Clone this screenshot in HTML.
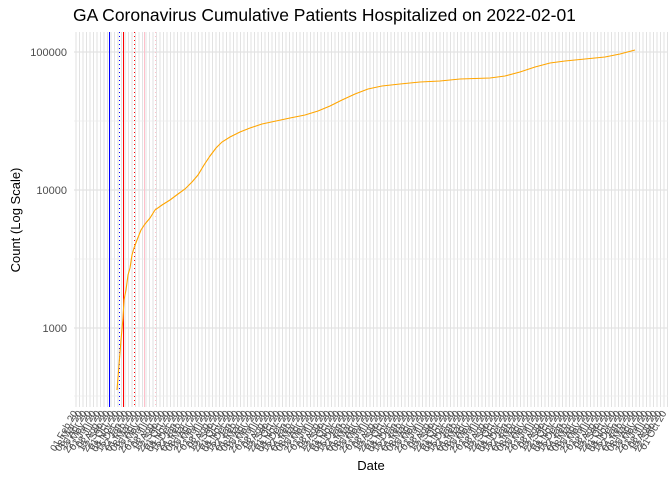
<!DOCTYPE html>
<html><head><meta charset="utf-8"><style>body{margin:0;background:#fff}svg{display:block}</style></head><body>
<svg width="672" height="480" xmlns="http://www.w3.org/2000/svg" font-family="Liberation Sans, sans-serif">
<rect width="672" height="480" fill="#fff"/>
<g id="vg" stroke="#e2e2e2" stroke-width="1"></g>
<g stroke="#ebebeb" stroke-width="0.8">
<line x1="74" x2="668" y1="121" y2="121"/><line x1="74" x2="668" y1="259" y2="259"/><line x1="74" x2="668" y1="396" y2="396"/>
</g>
<g stroke="#e3e3e3" stroke-width="1.2">
<line x1="74" x2="668" y1="52" y2="52"/><line x1="74" x2="668" y1="190" y2="190"/><line x1="74" x2="668" y1="328" y2="328"/>
</g>
<line x1="109.5" x2="109.5" y1="32" y2="407" stroke="#0000ff" stroke-width="1"/>
<line x1="119.5" x2="119.5" y1="32" y2="407" stroke="#0000ff" stroke-width="1" stroke-dasharray="1,3"/>
<line x1="123.5" x2="123.5" y1="32" y2="407" stroke="#ff0000" stroke-width="1"/>
<line x1="134.5" x2="134.5" y1="32" y2="407" stroke="#ff0000" stroke-width="1" stroke-dasharray="1,3"/>
<line x1="144.5" x2="144.5" y1="32" y2="407" stroke="#ffc0cb" stroke-width="1"/>
<line x1="155.5" x2="155.5" y1="32" y2="407" stroke="#ffc0cb" stroke-width="1" stroke-dasharray="1,3"/>
<polyline fill="none" stroke="#ffa500" stroke-width="1.1" points="117,390 119,365 121,340 123,318 124,300 126,290 128,275 130,268 132,255 134,248 137,240 141,230 145,224 150,218 155,210 162,205 170,200 178,194 185,189 192,182 198,175 204,165 210,156 216,148 222,142 230,137 240,132 250,128 262,124 276,121 290,118 305,115 318,111 330,106 342,100 355,94 368,89 382,86 400,84 420,82 440,81 460,79 490,78 505,76 520,72 535,67 550,63 565,61 585,59 605,57 620,54 635,50"/>
<g font-size="11" fill="#4d4d4d" text-anchor="end">
<text x="67" y="56">100000</text><text x="67" y="194">10000</text><text x="67" y="332">1000</text>
</g>
<g id="xl" font-size="10" fill="#4d4d4d" text-anchor="end"></g>
<text x="73" y="21" font-size="17.5" fill="#000">GA Coronavirus Cumulative Patients Hospitalized on 2022-02-01</text>
<text x="371" y="470" font-size="13" fill="#000" text-anchor="middle">Date</text>
<text transform="translate(20,220) rotate(-90)" font-size="13" fill="#000" text-anchor="middle">Count (Log Scale)</text>
<script>
var g=document.getElementById('vg'),xl=document.getElementById('xl'),ns='http://www.w3.org/2000/svg';
var months=['Jan','Feb','Mar','Apr','May','Jun','Jul','Aug','Sep','Oct','Nov','Dec'];
for(var x=76,i=0;x<668;x+=3.5,i++){var l=document.createElementNS(ns,'line');l.setAttribute('x1',x);l.setAttribute('x2',x);l.setAttribute('y1',32);l.setAttribute('y2',407);g.appendChild(l);}
for(var x=78,i=0;x<668;x+=4.6,i++){var t=document.createElementNS(ns,'text');t.setAttribute('transform','translate('+x+',413) rotate(-60)');t.textContent=('0'+(1+(i*7)%28)).slice(-2)+' '+months[(i+1)%12]+' 20';xl.appendChild(t);}
</script>
</svg>
</body></html>
